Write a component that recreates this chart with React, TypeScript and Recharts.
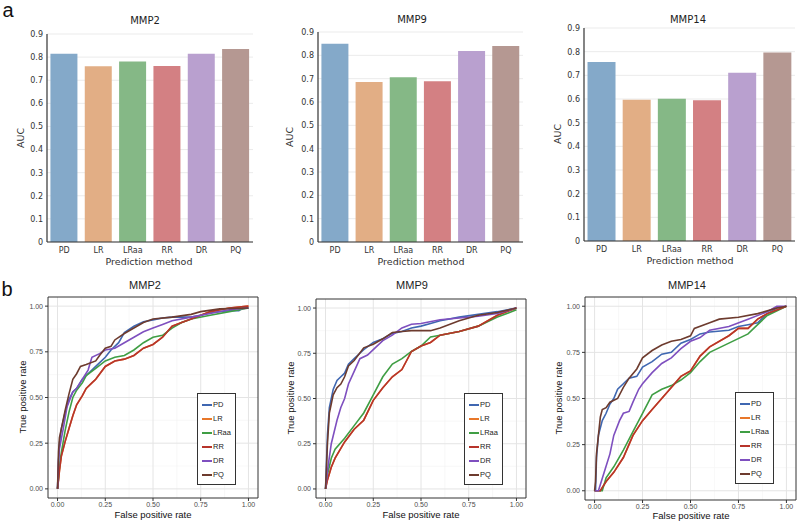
import React from 'react';
import {
  BarChart, Bar, Cell, XAxis, YAxis, CartesianGrid, LineChart, Line, Legend, ReferenceArea,
} from 'recharts';

// ---------- data ----------
const methods = ['PD', 'LR', 'LRaa', 'RR', 'DR', 'PQ'];
const barColors = ['#84a9c9', '#e2ae85', '#85b886', '#d38083', '#b9a0cf', '#b59892'];
const lineColors = ['#3f67b1', '#e8772a', '#3f9e44', '#b7342b', '#7e4fbf', '#6d3b2e'];

const aucMMP2 = [0.815, 0.76, 0.781, 0.761, 0.815, 0.835];
const aucMMP9 = [0.85, 0.686, 0.706, 0.689, 0.819, 0.84];
const aucMMP14 = [0.756, 0.597, 0.601, 0.595, 0.711, 0.797];
const aucTicks = [0, 0.1, 0.2, 0.3, 0.4, 0.5, 0.6, 0.7, 0.8, 0.9];

const rocTicks = [0, 0.25, 0.5, 0.75, 1];
const rocMinor = [0.125, 0.375, 0.625, 0.875];

type P = [number, number][];

// MMP2 ROC curves [fpr, tpr]
const mmp2PD: P = [[0,0],[0.005,0.15],[0.01,0.25],[0.02,0.33],[0.04,0.42],[0.06,0.49],[0.08,0.53],[0.1,0.55],[0.13,0.6],[0.16,0.63],[0.2,0.67],[0.25,0.72],[0.28,0.76],[0.32,0.8],[0.35,0.855],[0.4,0.89],[0.45,0.915],[0.5,0.925],[0.55,0.935],[0.6,0.94],[0.7,0.94],[0.75,0.95],[0.8,0.965],[0.9,0.975],[0.95,0.975],[0.97,0.99],[1,0.99]];
const mmp2LR: P = [[0,0],[0.01,0.1],[0.02,0.18],[0.04,0.26],[0.06,0.33],[0.08,0.4],[0.1,0.46],[0.13,0.51],[0.15,0.55],[0.18,0.58],[0.2,0.6],[0.25,0.67],[0.3,0.7],[0.35,0.71],[0.4,0.73],[0.45,0.77],[0.5,0.79],[0.55,0.83],[0.6,0.89],[0.65,0.91],[0.7,0.93],[0.8,0.97],[0.9,0.99],[1,1]];
const mmp2LRaa: P = [[0,0],[0.01,0.12],[0.02,0.2],[0.04,0.32],[0.06,0.42],[0.08,0.5],[0.1,0.54],[0.13,0.58],[0.15,0.62],[0.2,0.66],[0.25,0.7],[0.3,0.72],[0.35,0.73],[0.4,0.76],[0.45,0.8],[0.5,0.83],[0.55,0.84],[0.6,0.88],[0.65,0.91],[0.7,0.93],[0.8,0.95],[0.9,0.97],[1,0.99]];
const mmp2RR: P = [[0,0],[0.01,0.1],[0.02,0.18],[0.04,0.26],[0.06,0.33],[0.08,0.4],[0.1,0.46],[0.13,0.51],[0.15,0.55],[0.18,0.58],[0.2,0.6],[0.25,0.67],[0.3,0.7],[0.35,0.71],[0.4,0.73],[0.45,0.77],[0.5,0.79],[0.55,0.83],[0.6,0.89],[0.65,0.91],[0.7,0.93],[0.8,0.97],[0.9,0.99],[1,1]];
const mmp2DR: P = [[0,0],[0.005,0.15],[0.01,0.22],[0.03,0.33],[0.05,0.45],[0.08,0.53],[0.1,0.55],[0.13,0.6],[0.16,0.65],[0.18,0.72],[0.22,0.74],[0.25,0.76],[0.3,0.77],[0.35,0.8],[0.4,0.83],[0.45,0.86],[0.5,0.88],[0.55,0.9],[0.6,0.92],[0.7,0.94],[0.8,0.96],[0.9,0.98],[1,0.99]];
const mmp2PQ: P = [[0,0],[0.005,0.2],[0.01,0.28],[0.02,0.33],[0.04,0.43],[0.06,0.52],[0.08,0.6],[0.1,0.63],[0.12,0.67],[0.15,0.68],[0.2,0.7],[0.22,0.73],[0.25,0.77],[0.28,0.78],[0.3,0.815],[0.35,0.85],[0.4,0.88],[0.45,0.91],[0.5,0.93],[0.6,0.94],[0.7,0.955],[0.75,0.97],[0.85,0.985],[1,0.99]];

// MMP9 ROC curves
const mmp9PD: P = [[0,0],[0.005,0.15],[0.01,0.3],[0.02,0.45],[0.04,0.55],[0.06,0.6],[0.08,0.62],[0.1,0.64],[0.12,0.69],[0.15,0.72],[0.18,0.75],[0.2,0.77],[0.25,0.81],[0.3,0.83],[0.35,0.86],[0.4,0.87],[0.45,0.89],[0.5,0.9],[0.55,0.915],[0.6,0.93],[0.7,0.95],[0.8,0.965],[0.9,0.98],[1,1]];
const mmp9LR: P = [[0,0],[0.01,0.05],[0.03,0.12],[0.05,0.17],[0.1,0.26],[0.15,0.33],[0.2,0.38],[0.25,0.49],[0.3,0.56],[0.35,0.62],[0.4,0.66],[0.45,0.76],[0.5,0.79],[0.55,0.81],[0.6,0.85],[0.7,0.87],[0.8,0.9],[0.9,0.96],[1,1]];
const mmp9LRaa: P = [[0,0],[0.01,0.08],[0.03,0.17],[0.05,0.22],[0.1,0.28],[0.15,0.35],[0.2,0.42],[0.25,0.52],[0.3,0.62],[0.35,0.69],[0.4,0.72],[0.45,0.76],[0.5,0.79],[0.55,0.84],[0.6,0.85],[0.7,0.87],[0.8,0.9],[0.9,0.95],[1,0.99]];
const mmp9RR: P = [[0,0],[0.01,0.05],[0.03,0.12],[0.05,0.17],[0.1,0.26],[0.15,0.33],[0.2,0.38],[0.25,0.49],[0.3,0.56],[0.35,0.62],[0.4,0.66],[0.45,0.76],[0.5,0.79],[0.55,0.81],[0.6,0.85],[0.7,0.87],[0.8,0.9],[0.9,0.96],[1,1]];
const mmp9DR: P = [[0,0],[0.01,0.1],[0.03,0.25],[0.06,0.38],[0.08,0.45],[0.1,0.5],[0.12,0.58],[0.15,0.65],[0.18,0.72],[0.22,0.74],[0.25,0.77],[0.3,0.82],[0.35,0.85],[0.4,0.89],[0.45,0.91],[0.5,0.915],[0.6,0.935],[0.7,0.945],[0.8,0.955],[0.9,0.97],[1,1]];
const mmp9PQ: P = [[0,0],[0.005,0.12],[0.01,0.25],[0.02,0.42],[0.04,0.52],[0.06,0.56],[0.08,0.58],[0.1,0.62],[0.12,0.68],[0.15,0.71],[0.2,0.78],[0.25,0.8],[0.3,0.83],[0.35,0.865],[0.4,0.87],[0.45,0.875],[0.55,0.875],[0.6,0.89],[0.7,0.93],[0.8,0.96],[0.9,0.975],[1,1]];

// MMP14 ROC curves
const mmp14PD: P = [[0,0],[0.005,0],[0.01,0.18],[0.02,0.3],[0.04,0.38],[0.06,0.42],[0.08,0.47],[0.1,0.5],[0.12,0.55],[0.15,0.58],[0.18,0.61],[0.22,0.62],[0.25,0.67],[0.3,0.7],[0.35,0.74],[0.4,0.75],[0.45,0.8],[0.5,0.82],[0.55,0.85],[0.6,0.86],[0.7,0.87],[0.75,0.89],[0.8,0.9],[0.85,0.91],[0.9,0.96],[0.95,0.99],[1,1]];
const mmp14LR: P = [[0,0],[0.03,0],[0.06,0.05],[0.1,0.1],[0.15,0.18],[0.2,0.3],[0.25,0.38],[0.3,0.44],[0.35,0.5],[0.4,0.56],[0.45,0.62],[0.5,0.65],[0.55,0.73],[0.6,0.78],[0.7,0.84],[0.75,0.88],[0.8,0.88],[0.85,0.93],[0.9,0.96],[0.95,0.98],[1,1]];
const mmp14LRaa: P = [[0,0],[0.04,0],[0.06,0.07],[0.1,0.13],[0.15,0.22],[0.2,0.32],[0.25,0.42],[0.3,0.52],[0.35,0.55],[0.4,0.57],[0.45,0.6],[0.5,0.64],[0.55,0.7],[0.6,0.75],[0.7,0.8],[0.8,0.85],[0.85,0.9],[0.9,0.95],[1,1]];
const mmp14RR: P = [[0,0],[0.03,0],[0.06,0.05],[0.1,0.1],[0.15,0.18],[0.2,0.3],[0.25,0.38],[0.3,0.44],[0.35,0.5],[0.4,0.56],[0.45,0.62],[0.5,0.65],[0.55,0.73],[0.6,0.78],[0.7,0.84],[0.75,0.88],[0.8,0.88],[0.85,0.93],[0.9,0.96],[0.95,0.98],[1,1]];
const mmp14DR: P = [[0,0],[0.02,0],[0.05,0.1],[0.08,0.2],[0.1,0.3],[0.13,0.38],[0.15,0.42],[0.18,0.43],[0.2,0.48],[0.23,0.55],[0.25,0.58],[0.3,0.64],[0.35,0.69],[0.4,0.72],[0.45,0.77],[0.5,0.81],[0.55,0.83],[0.6,0.87],[0.7,0.89],[0.8,0.93],[0.9,0.97],[0.95,1],[1,1]];
const mmp14PQ: P = [[0,0],[0.005,0.05],[0.01,0.2],[0.02,0.3],[0.03,0.4],[0.04,0.44],[0.06,0.45],[0.08,0.48],[0.12,0.5],[0.15,0.56],[0.18,0.61],[0.22,0.66],[0.25,0.72],[0.3,0.76],[0.35,0.79],[0.4,0.81],[0.45,0.82],[0.5,0.84],[0.52,0.88],[0.6,0.91],[0.65,0.93],[0.75,0.94],[0.85,0.96],[0.95,0.99],[1,1]];

// ---------- helpers ----------
const BAR_FONT = 'DejaVu Sans, sans-serif';
const ROC_FONT = 'Liberation Sans, Arial, sans-serif';

function Txt(props: { x: number; y: number; text: string; size: number; font: string; color?: string; rotate?: boolean }) {
  const { x, y, text, size, font, color = '#222', rotate } = props;
  return (
    <div
      style={{
        position: 'absolute', left: x, top: y, fontSize: size, fontFamily: font, color,
        whiteSpace: 'nowrap', lineHeight: 1,
        transform: `translate(-50%, -50%)${rotate ? ' rotate(-90deg)' : ''}`,
      }}
    >
      {text}
    </div>
  );
}

function BarPanel(props: { values: number[]; left: number; width: number; margin: { top: number; right: number; bottom: number; left: number } }) {
  const { values, left, width, margin } = props;
  const data = methods.map((m, i) => ({ method: m, auc: values[i] }));
  const tickStyle = { fontSize: 8, fill: '#333', fontFamily: BAR_FONT };
  return (
    <div style={{ position: 'absolute', left, top: 0 }}>
      <BarChart width={width} height={270} data={data} margin={margin} barCategoryGap="10%">
        <CartesianGrid vertical={false} stroke="#ebebeb" />
        <XAxis dataKey="method" interval={0} tickSize={0} tickMargin={5} height={14}
          axisLine={{ stroke: '#333', strokeWidth: 1.2 }} tick={tickStyle} />
        <YAxis type="number" domain={[0, 0.9]} ticks={aucTicks} width={24} tickSize={0} tickMargin={4}
          axisLine={{ stroke: '#333', strokeWidth: 1.2 }} tick={tickStyle}
          tickFormatter={(v: number) => (v === 0 ? '0' : v.toFixed(1))} />
        <Bar dataKey="auc" isAnimationActive={false}>
          {data.map((d, i) => <Cell key={d.method} fill={barColors[i]} />)}
        </Bar>
      </BarChart>
    </div>
  );
}

function LegendBox() {
  return (
    <div style={{ border: '1px solid #333', background: '#fff', paddingTop: 4, paddingBottom: 2, width: 39, boxSizing: 'border-box' }}>
      {methods.map((m, i) => (
        <div key={m} style={{ display: 'flex', alignItems: 'center', height: 14 }}>
          <span style={{ display: 'inline-block', width: 10, height: 2, background: lineColors[i], marginLeft: 4 }} />
          <span style={{ fontSize: 7.5, fontFamily: ROC_FONT, color: '#222', marginLeft: 1, lineHeight: 1 }}>{m}</span>
        </div>
      ))}
    </div>
  );
}

function RocPanel(props: { series: P[]; left: number; width: number; margin: { top: number; right: number; bottom: number; left: number }; legLeft: number; legTop: number }) {
  const { series, left, width, margin, legLeft, legTop } = props;
  const tickStyle = { fontSize: 7, fill: '#4d4d4d', fontFamily: ROC_FONT };
  return (
    <div style={{ position: 'absolute', left, top: 270 }}>
      <LineChart width={width} height={252} margin={margin}>
        <CartesianGrid horizontalValues={rocMinor} verticalValues={rocMinor} stroke="#f3f3f3" strokeWidth={0.6} />
        <CartesianGrid horizontalValues={rocTicks} verticalValues={rocTicks} stroke="#e4e4e4" strokeWidth={1} />
        <XAxis type="number" dataKey="x" domain={[-0.05, 1.05]} ticks={rocTicks} allowDataOverflow height={14}
          axisLine={false} tickSize={3} tickMargin={1} tickLine={{ stroke: '#333' }} tick={tickStyle}
          tickFormatter={(v: number) => v.toFixed(2)} />
        <YAxis type="number" dataKey="y" domain={[-0.05, 1.05]} ticks={rocTicks} allowDataOverflow width={26}
          axisLine={false} tickSize={3} tickMargin={2} tickLine={{ stroke: '#333' }} tick={tickStyle}
          tickFormatter={(v: number) => v.toFixed(2)} />
        {series.map((s, i) => (
          <Line key={methods[i]} name={methods[i]} data={s.map(([x, y]) => ({ x, y }))} dataKey="y"
            type="linear" stroke={lineColors[i]} strokeWidth={1.6} dot={false} activeDot={false}
            isAnimationActive={false} />
        ))}
        <ReferenceArea x1={-0.05} x2={1.05} y1={-0.05} y2={1.05} fill="none" fillOpacity={0}
          stroke="#333" strokeWidth={1} />
        <Legend layout="vertical" align="center" verticalAlign="middle" content={() => <LegendBox />}
          wrapperStyle={{ left: legLeft, top: legTop, width: 40, height: 92 }} />
      </LineChart>
    </div>
  );
}

export default function App() {
  return (
    <div style={{ position: 'absolute', left: 0, top: 0, width: 800, height: 522, background: '#fff', overflow: 'hidden' }}>
      {/* panel a */}
      <BarPanel values={aucMMP2} left={0} width={268} margin={{ top: 34, right: 15, bottom: 14, left: 23 }} />
      <BarPanel values={aucMMP9} left={268} width={264} margin={{ top: 32, right: 9, bottom: 14, left: 26 }} />
      <BarPanel values={aucMMP14} left={532} width={268} margin={{ top: 28, right: 5, bottom: 15, left: 28 }} />

      {/* panel b */}
      <RocPanel series={[mmp2PD, mmp2LR, mmp2LRaa, mmp2RR, mmp2DR, mmp2PQ]} left={0} width={268}
        margin={{ top: 27, right: 10, bottom: 10, left: 22 }} legLeft={197} legTop={123} />
      <RocPanel series={[mmp9PD, mmp9LR, mmp9LRaa, mmp9RR, mmp9DR, mmp9PQ]} left={268} width={264}
        margin={{ top: 29, right: 6, bottom: 10, left: 22 }} legLeft={196} legTop={123} />
      <RocPanel series={[mmp14PD, mmp14LR, mmp14LRaa, mmp14RR, mmp14DR, mmp14PQ]} left={532} width={268}
        margin={{ top: 27, right: 4, bottom: 8, left: 27 }} legLeft={203} legTop={122} />

      {/* panel letters */}
      <Txt x={8} y={10} text="a" size={20} font={ROC_FONT} color="#111" />
      <Txt x={7} y={289} text="b" size={20} font={ROC_FONT} color="#111" />

      {/* bar titles and axis titles */}
      <Txt x={145} y={20.5} text="MMP2" size={10} font={BAR_FONT} />
      <Txt x={412} y={19.5} text="MMP9" size={10} font={BAR_FONT} />
      <Txt x={688} y={20} text="MMP14" size={10} font={BAR_FONT} />
      <Txt x={21} y={138} text="AUC" size={9.5} font={BAR_FONT} color="#333" rotate />
      <Txt x={290} y={137} text="AUC" size={9.5} font={BAR_FONT} color="#333" rotate />
      <Txt x={558} y={134} text="AUC" size={9.5} font={BAR_FONT} color="#333" rotate />
      <Txt x={149} y={262} text="Prediction method" size={9.5} font={BAR_FONT} color="#333" />
      <Txt x={421} y={262} text="Prediction method" size={9.5} font={BAR_FONT} color="#333" />
      <Txt x={690} y={261} text="Prediction method" size={9.5} font={BAR_FONT} color="#333" />

      {/* ROC titles and axis titles */}
      <Txt x={145} y={285} text="MMP2" size={11} font={ROC_FONT} />
      <Txt x={412} y={285} text="MMP9" size={11} font={ROC_FONT} />
      <Txt x={687} y={285} text="MMP14" size={11} font={ROC_FONT} />
      <Txt x={23} y={397} text="True positive rate" size={9.5} font={ROC_FONT} color="#111" rotate />
      <Txt x={291} y={398} text="True positive rate" size={9.5} font={ROC_FONT} color="#111" rotate />
      <Txt x={559} y={398} text="True positive rate" size={9.5} font={ROC_FONT} color="#111" rotate />
      <Txt x={153} y={515} text="False positive rate" size={9.5} font={ROC_FONT} color="#111" />
      <Txt x={421} y={515} text="False positive rate" size={9.5} font={ROC_FONT} color="#111" />
      <Txt x={691} y={516} text="False positive rate" size={9.5} font={ROC_FONT} color="#111" />
    </div>
  );
}
